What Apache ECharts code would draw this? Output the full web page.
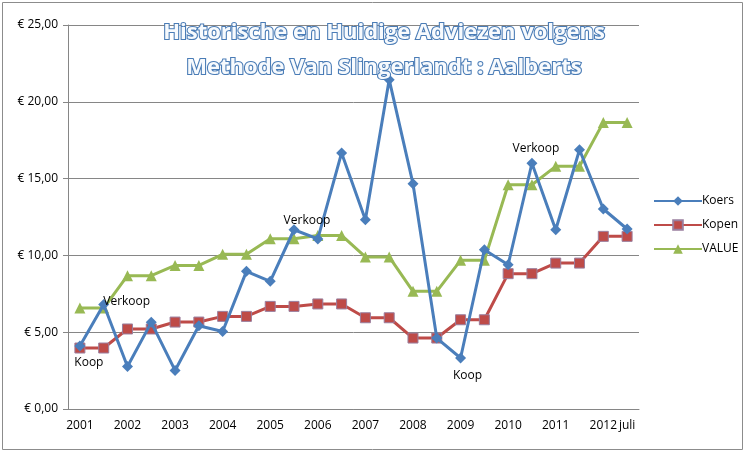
<!DOCTYPE html>
<html>
<head>
<meta charset="utf-8">
<script src="https://cdn.jsdelivr.net/npm/echarts@6/dist/echarts.min.js"></script>
<style>
  html, body { margin: 0; padding: 0; background: #fff; }
  #chart { width: 751px; height: 457px; }
</style>
</head>
<body>
<div id="chart"></div>
<script>
// halfjaren, alleen elk jaar een label
const categories = ['2001', '', '2002', '', '2003', '', '2004', '', '2005', '', '2006', '',
  '2007', '', '2008', '', '2009', '', '2010', '', '2011', '', '2012', 'juli'];

const koers = [4.1, 6.8, 2.77, 5.64, 2.51, 5.42, 5.05, 8.96, 8.31, 11.67, 11.07, 16.67,
  12.32, 21.44, 14.67, 4.62, 3.32, 10.37, 9.39, 16.0, 11.67, 16.88, 13.02, 11.72];
const kopen = [3.97, 3.97, 5.21, 5.21, 5.66, 5.66, 6.03, 6.03, 6.68, 6.68, 6.84, 6.84,
  5.94, 5.94, 4.62, 4.62, 5.81, 5.81, 8.81, 8.81, 9.5, 9.5, 11.24, 11.24];
const value = [6.57, 6.57, 8.68, 8.68, 9.35, 9.35, 10.07, 10.07, 11.09, 11.09, 11.3, 11.3,
  9.9, 9.9, 7.66, 7.66, 9.68, 9.68, 14.6, 14.6, 15.8, 15.8, 18.66, 18.66];

// adviezen bij de koers (index -> tekst)
const adviezen = { 0: 'Koop', 1: 'Verkoop', 9: 'Verkoop', 16: 'Koop', 19: 'Verkoop' };

const titleLines = ['Historische en Huidige Adviezen volgens', 'Methode Van Slingerlandt : Aalberts'];

const labelPos = {
  0: { position: 'bottom', offset: [9, 0] },
  1: { position: 'top', offset: [23, 14] },
  9: { position: 'top', offset: [13, 7] },
  16: { position: 'bottom', offset: [7, 1] },
  19: { position: 'top', offset: [4, 2] }
};

const koersData = koers.map((v, i) => {
  if (adviezen[i] === undefined) return v;
  return {
    value: v,
    label: Object.assign({
      show: true,
      formatter: adviezen[i],
      color: '#000',
      fontSize: 12,
      fontFamily: 'Open Sans'
    }, labelPos[i])
  };
});

// titel als twee losse regels, gecentreerd rond x=384
const titleGraphics = titleLines.map((t, i) => ({
  type: 'text',
  x: 384,
  y: 22 + i * 35,
  z: 100,
  style: {
    text: t,
    align: 'center',
    verticalAlign: 'top',
    fill: '#f7fafd',
    stroke: '#4a7cb6',
    lineWidth: 2.2,
    font: 'bold 22px "Open Sans"',
    shadowColor: 'rgba(40,70,110,0.45)',
    shadowBlur: 2,
    shadowOffsetX: 1,
    shadowOffsetY: 1
  }
}));

const chart = echarts.init(document.getElementById('chart'));

const option = {
  animation: false,
  backgroundColor: '#fff',
  textStyle: { fontFamily: 'Open Sans' },
  graphic: [
    {
      type: 'rect',
      shape: { x: 2.5, y: 2.5, width: 740, height: 447 },
      style: { fill: 'none', stroke: '#8c8c8c', lineWidth: 1 },
      z: -1
    }
  ].concat(titleGraphics),
  legend: {
    orient: 'vertical',
    left: 648,
    top: 190,
    itemWidth: 48,
    itemHeight: 12,
    itemGap: 12,
    textStyle: { fontSize: 12, color: '#000', padding: [0, 0, 0, -5] },
    data: ['Koers', 'Kopen', 'VALUE']
  },
  grid: { left: 68, right: 112, top: 25, bottom: 48 },
  xAxis: {
    type: 'category',
    data: categories,
    boundaryGap: true,
    axisLine: { lineStyle: { color: '#868686' } },
    axisTick: { interval: 0, length: 6, lineStyle: { color: '#868686' } },
    axisLabel: { interval: 0, color: '#000', fontSize: 12, margin: 11 }
  },
  yAxis: {
    type: 'value',
    min: 0,
    max: 25,
    interval: 5,
    axisLine: { show: true, lineStyle: { color: '#868686' } },
    axisTick: { show: true, length: 5, lineStyle: { color: '#868686' } },
    splitLine: { lineStyle: { color: '#868686' } },
    axisLabel: {
      color: '#000',
      fontSize: 12,
      margin: 10,
      formatter: v => '€ ' + v.toFixed(2).replace('.', ',')
    }
  },
  series: [
    {
      name: 'Koers',
      type: 'line',
      data: koersData,
      symbol: 'diamond',
      symbolSize: 11,
      color: '#4a7ebb',
      lineStyle: { width: 3, color: '#4a7ebb' },
      itemStyle: { color: '#4a7ebb' },
      z: 4
    },
    {
      name: 'Kopen',
      type: 'line',
      data: kopen,
      symbol: 'rect',
      symbolSize: 10,
      color: '#be4b48',
      lineStyle: { width: 3, color: '#be4b48' },
      itemStyle: { color: '#be4b48', borderColor: '#9a7f9e', borderWidth: 1 },
      z: 3
    },
    {
      name: 'VALUE',
      type: 'line',
      data: value,
      symbol: 'triangle',
      symbolSize: 11,
      color: '#98b954',
      lineStyle: { width: 3, color: '#98b954' },
      itemStyle: { color: '#98b954' },
      z: 2
    }
  ]
};

chart.setOption(option);
</script>
</body>
</html>
